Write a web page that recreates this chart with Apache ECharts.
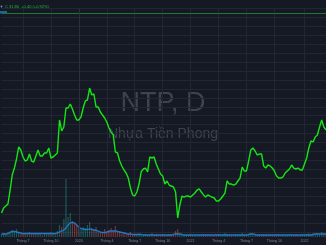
<!DOCTYPE html>
<html><head><meta charset="utf-8">
<script src="https://cdn.jsdelivr.net/npm/echarts@6/dist/echarts.min.js"></script>
<style>html,body{margin:0;padding:0;background:#151924;}#c{width:326px;height:245px;}</style>
</head><body><div id="c"></div>
<script>
// Weekly closes
const price = [
22.13,22.69,22.92,23.14,24.70,26.38,27.16,28.17,29.51,29.17,
28.39,27.94,28.06,28.73,27.94,27.83,28.50,29.17,28.50,28.50,
28.84,28.84,29.40,28.28,28.39,28.61,28.84,32.53,31.30,31.74,
33.87,33.87,34.31,33.75,33.08,32.53,32.53,32.86,33.87,34.65,
34.76,36.10,35.32,35.43,33.98,33.98,33.42,33.08,32.75,32.30,
31.63,31.18,30.85,28.95,28.84,27.94,27.39,26.94,26.60,26.04,
24.93,24.15,24.03,24.48,25.37,26.72,27.05,27.16,26.72,28.39,
28.28,28.39,27.61,27.05,26.49,26.27,25.37,25.71,25.26,25.15,
25.04,24.48,21.58,23.03,24.03,23.92,24.03,24.03,23.92,24.15,
24.37,24.70,24.82,24.48,24.15,23.92,24.15,24.03,23.92,23.81,
23.47,23.47,23.70,24.03,24.37,25.71,25.37,25.37,25.26,25.37,
25.71,26.04,27.27,26.83,26.83,27.94,29.17,29.40,29.06,28.61,
28.73,28.73,27.39,27.16,27.50,27.39,27.16,26.83,26.27,26.04,
26.04,26.16,26.60,26.83,27.05,27.50,27.16,27.05,27.16,26.94,
26.94,27.61,28.28,29.40,30.18,30.07,30.63,30.85,31.74,32.53,
31.74,31.41];
const volume = [
3,4,3,5,6,7,6,8,5,3,
4,3,3,5,4,3,3,4,3,2,
3,4,3,5,3,4,6,12,10,18,
58,20,24,16,14,12,9,8,10,9,
12,15,9,7,10,6,5,4,8,5,
7,9,6,11,6,5,3,4,2,3,
5,3,2,3,4,2,2,3,2,2,
4,2,3,2,2,3,2,2,3,2,
3,6,8,4,3,2,2,2,3,2,
2,1,2,2,3,2,2,2,1,2,
2,3,2,2,4,3,2,2,2,3,
2,2,4,2,2,3,4,3,2,2,
3,2,2,2,2,3,2,2,2,3,
2,2,2,2,3,2,2,2,2,2,
3,2,3,4,3,4,3,4,3,5,
4,3];
const volumeMA = [
3,3,3,3.5,4.5,5.5,5.5,5,4.5,4,
3.5,3.5,3.5,3.5,3.5,3.5,3.5,3.5,3.5,3.5,
3.5,3.5,3.5,3.5,3.5,3.5,4,5,6,7,
9,12,14,14.5,14,12,10,8.5,8,7.5,
7.5,8,7.5,7,6.5,6,5,4.5,4.5,5,
5.5,6,6,6,5.5,5,4.5,4,3.5,3,
3,2.5,2.5,2.5,2.5,2.5,2,2,2,2,
2,2,2,2,2,2,2,2,2,2,
2.5,3,3,3,2.5,2,2,2,2,2,
2,2,2,2,2,2,2,2,2,2,
2,2,2,2,2,2,2,2,2,2,
2,2,2,2,2,2.5,3,3,2.5,2,
2,2,2,2,2,2,2,2,2,2,
2,2,2,2,2,2,2,2,2,2,
2,2,2,2,2,2.5,3,3,3,3,
3,3];
const startMonday = Date.UTC(2019, 3, 22);
const categories = price.map((_, i) => new Date(startMonday + i * 7 * 864e5).toISOString().slice(0, 10));
const tickWeeks = ['2019-07-01','2019-09-30','2019-12-30','2020-03-30','2020-06-29','2020-09-28','2020-12-28','2021-03-29','2021-06-28','2021-09-27','2022-01-03'];
const tickLabels = ['Tháng 7','Tháng 10','2020','Tháng 4','Tháng 7','Tháng 10','2021','Tháng 4','Tháng 7','Tháng 10','2022'];
const priceLineValue = 44.5;
const legendText = 'C 31.80  +0.40 (+0.92%)';

const isTick = (idx, val) => tickWeeks.indexOf(val) >= 0;
const gridColor = '#222632';
const chart = echarts.init(document.getElementById('c'), null, {renderer: 'canvas'});
chart.setOption({
  backgroundColor: '#151924',
  animation: false,
  textStyle: {fontFamily: 'Liberation Sans'},
  grid: [
    {left: 1.5, right: -0.5, top: 8.35, bottom: 12.9},
    {left: 1.5, right: -0.5, top: 177, bottom: 8}
  ],
  xAxis: [
    {type: 'category', gridIndex: 0, data: categories, boundaryGap: false,
     axisLine: {show: false}, axisTick: {show: false}, axisLabel: {show: false},
     splitLine: {show: true, interval: isTick, lineStyle: {color: gridColor, width: 1}}},
    {type: 'category', gridIndex: 1, data: categories, boundaryGap: false,
     axisLine: {show: false}, axisTick: {show: false},
     axisLabel: {show: true, interval: isTick, margin: 2, fontSize: 3.6, color: '#7f838e',
       formatter: (val) => tickLabels[tickWeeks.indexOf(val)] || ''},
     splitLine: {show: true, interval: isTick, lineStyle: {color: gridColor, width: 1}}}
  ],
  yAxis: [
    {type: 'value', gridIndex: 0, min: 20, max: 45, interval: 1, position: 'right',
     axisLine: {show: false}, axisTick: {show: false}, axisLabel: {show: false},
     splitLine: {show: true, lineStyle: {color: gridColor, width: 1}}},
    {type: 'value', gridIndex: 1, min: 0, max: 60, show: false, splitLine: {show: false}}
  ],
  graphic: [
    {type: 'text', left: 'center', top: 90, style: {text: 'NTP, D', fontSize: 27, fontFamily: 'Liberation Sans', fill: '#3f434e'}, z: 0},
    {type: 'text', left: 'center', top: 127, style: {text: 'Nhựa Tiền Phong', fontSize: 14, fontFamily: 'Liberation Sans', fill: '#3f434e'}, z: 0},
    {type: 'circle', shape: {cx: 1.5, cy: 6.5, r: 0.9}, style: {fill: '#8a8e99'}},
    {type: 'text', left: 5, top: 4.5, style: {text: legendText, fontSize: 4, fontFamily: 'Liberation Sans', fill: '#25b83a'}},
    {type: 'rect', shape: {x: 0, y: 11, width: 7, height: 2.5}, style: {fill: '#1f5fa8'}}
  ],
  series: [
    {type: 'bar', xAxisIndex: 1, yAxisIndex: 1, data: volume, barWidth: 1.2, z: 1,
     itemStyle: {color: (p) => (p.dataIndex > 0 && price[p.dataIndex] < price[p.dataIndex - 1]) ? 'rgba(239,83,80,0.45)' : 'rgba(38,166,154,0.45)'}},
    {type: 'line', xAxisIndex: 1, yAxisIndex: 1, data: volumeMA, showSymbol: false, smooth: true, z: 2,
     lineStyle: {color: '#2379c4', width: 1.3}},
    {type: 'line', xAxisIndex: 0, yAxisIndex: 0, data: price, showSymbol: false, z: 5,
     lineStyle: {color: '#14e614', width: 1.4},
     markLine: {silent: true, symbol: 'none', label: {show: false},
       data: [
         {yAxis: priceLineValue, lineStyle: {color: '#1d7a2c', width: 1, type: 'solid'}},
         {xAxis: tickWeeks[2], lineStyle: {color: '#2c303c', width: 1, type: 'solid'}}
       ]}}
  ]
});
</script></body></html>
